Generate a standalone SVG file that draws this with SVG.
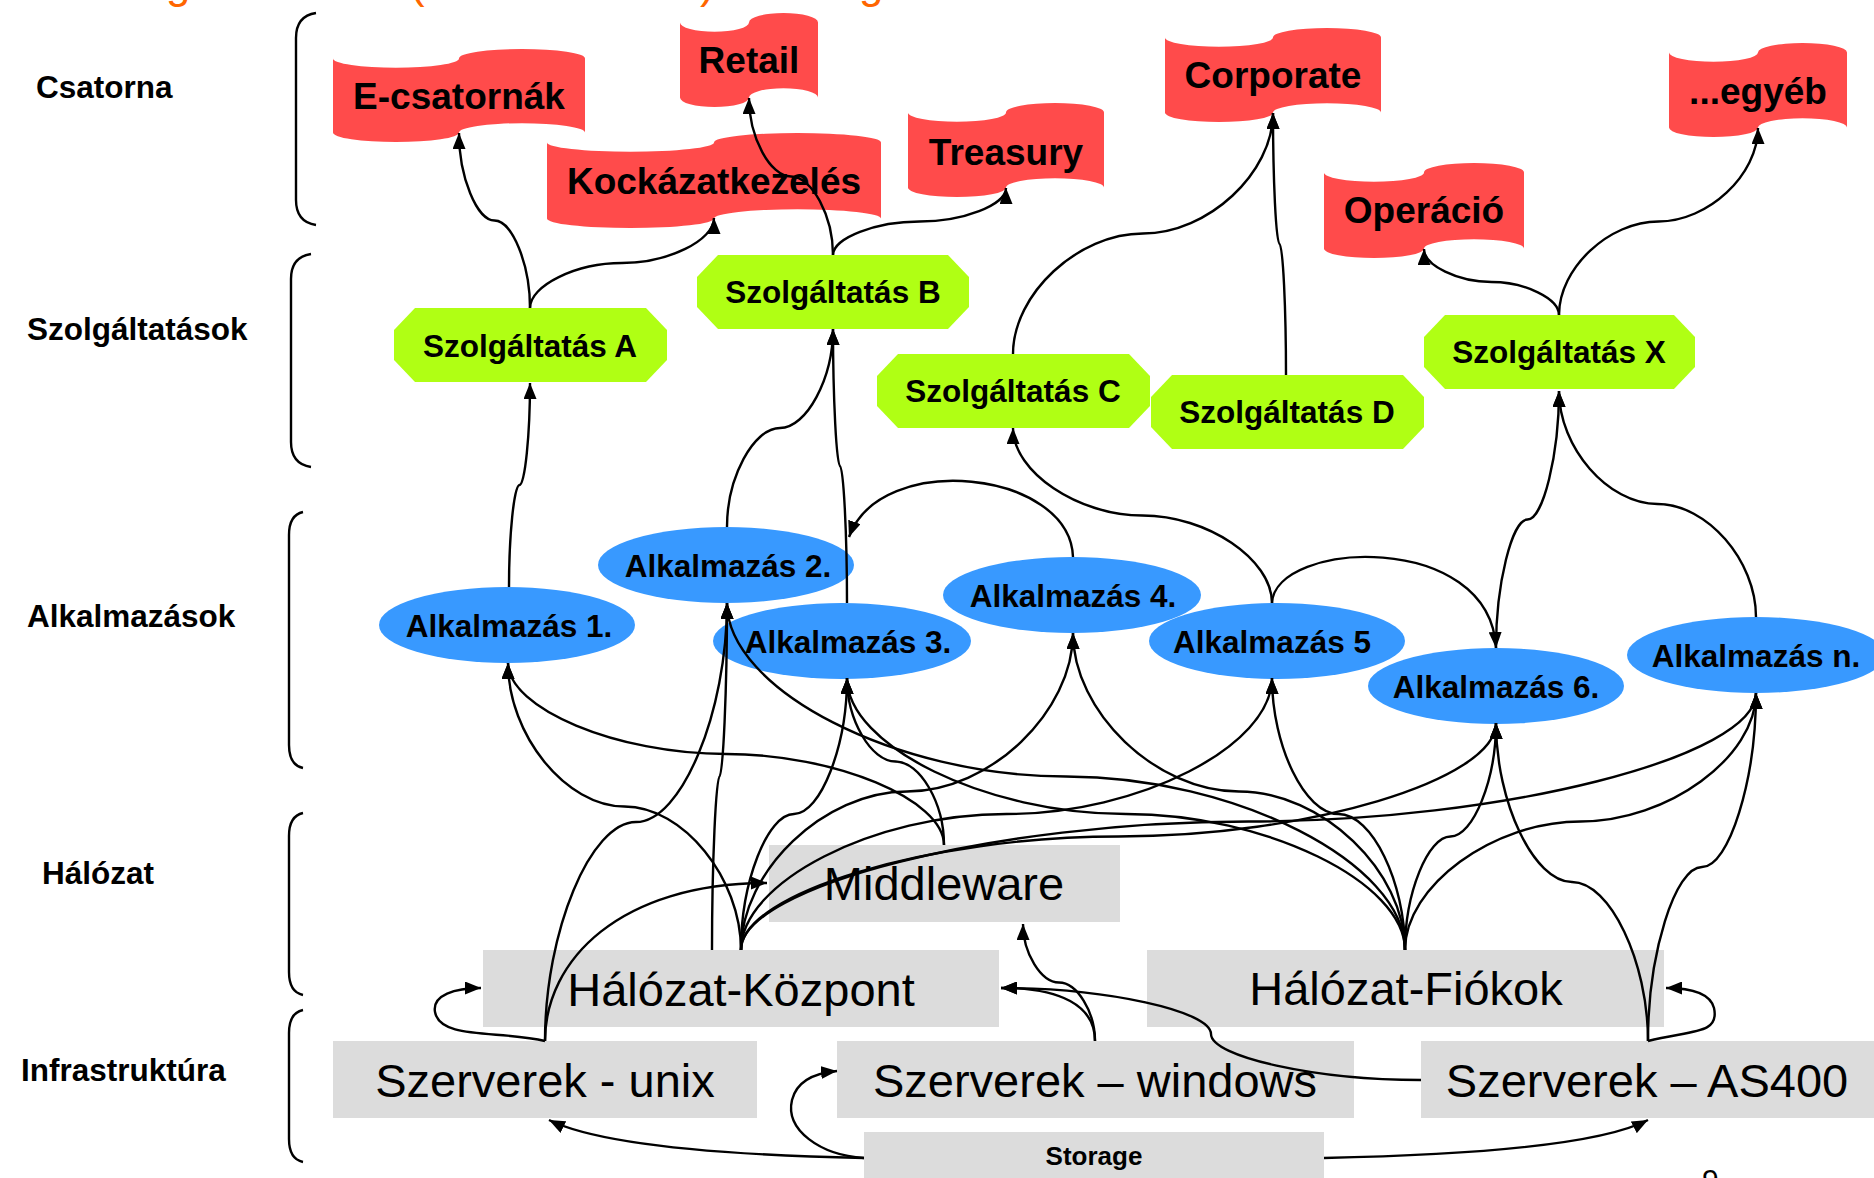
<svg xmlns="http://www.w3.org/2000/svg" width="1874" height="1178" viewBox="0 0 1874 1178">
  <style>
    .conn { fill: none; stroke: #000; stroke-width: 2.4; }
    .arr { marker-end: url(#ah); }
    .brk { fill: none; stroke: #000; stroke-width: 2.4; }
    .red { fill: #ff4b4b; }
    .grn { fill: #b0ff14; }
    .blu { fill: #3899ff; }
    .gry { fill: #dcdcdc; }
    text { font-family: "Liberation Sans", Arial, sans-serif; fill: #000; }
    .lvl { font-size: 31.5px; font-weight: bold; }
    .tr { font-size: 37px; font-weight: bold; text-anchor: middle; }
    .tg { font-size: 31.5px; font-weight: bold; text-anchor: middle; }
    .tb { font-size: 31.5px; font-weight: bold; text-anchor: middle; }
    .tx { font-size: 47px; text-anchor: middle; }
    .ttl { font-size: 44px; fill: #ff6600; }
  </style>
  <defs>
    <marker id="ah" viewBox="0 0 16 13" refX="16" refY="6.5" markerWidth="16" markerHeight="13" markerUnits="userSpaceOnUse" orient="auto">
      <path d="M0,0 L16,6.5 L0,13 Z" fill="#000"/>
    </marker>
  </defs>

  <!-- title line, mostly above the top edge -->
  <g id="title">
    <text class="ttl" x="166" y="-2">g</text>
    <text class="ttl" x="410" y="-2">(</text>
    <text class="ttl" x="700" y="-2">)</text>
    <text class="ttl" x="859" y="-2">g</text>
  </g>

  <!-- layer labels and brackets -->
  <g id="levels">
    <text class="lvl" x="36" y="98">Csatorna</text>
    <text class="lvl" x="27" y="340">Szolgáltatások</text>
    <text class="lvl" x="27" y="627">Alkalmazások</text>
    <text class="lvl" x="42" y="884">Hálózat</text>
    <text class="lvl" x="21" y="1081">Infrastruktúra</text>
    <path class="brk" d="M316,13 Q296,16 296,38 L296,200 Q296,222 316,225"/>
    <path class="brk" d="M311,254 Q291,257 291,279 L291,442 Q291,464 311,467"/>
    <path class="brk" d="M303,512 Q289,515 289,535 L289,745 Q289,765 303,768"/>
    <path class="brk" d="M303,813 Q289,816 289,836 L289,972 Q289,992 303,995"/>
    <path class="brk" d="M303,1010 Q289,1013 289,1033 L289,1139 Q289,1159 303,1162"/>
  </g>

  <!-- channel nodes (punched-tape shapes) -->
  <g id="n-ecsatornak">
    <path class="red" d="M333,58.4 A63,9.4 0 0 0 459,58.4 A63,9.4 0 0 1 585,58.4 L585,132.6 A63,9.4 0 0 0 459,132.6 A63,9.4 0 0 1 333,132.6 Z"/>
    <text class="tr" x="459" y="109">E-csatornák</text>
  </g>
  <g id="n-retail">
    <path class="red" d="M680,22.4 A34.5,9.4 0 0 0 749,22.4 A34.5,9.4 0 0 1 818,22.4 L818,97.6 A34.5,9.4 0 0 0 749,97.6 A34.5,9.4 0 0 1 680,97.6 Z"/>
    <text class="tr" x="749" y="73">Retail</text>
  </g>
  <g id="n-kockazat">
    <path class="red" d="M547,142.4 A83.5,9.4 0 0 0 714,142.4 A83.5,9.4 0 0 1 881,142.4 L881,218.6 A83.5,9.4 0 0 0 714,218.6 A83.5,9.4 0 0 1 547,218.6 Z"/>
    <text class="tr" x="714" y="194">Kockázatkezelés</text>
  </g>
  <g id="n-treasury">
    <path class="red" d="M908,112.4 A49,9.4 0 0 0 1006,112.4 A49,9.4 0 0 1 1104,112.4 L1104,187.6 A49,9.4 0 0 0 1006,187.6 A49,9.4 0 0 1 908,187.6 Z"/>
    <text class="tr" x="1006" y="165">Treasury</text>
  </g>
  <g id="n-corporate">
    <path class="red" d="M1165,37.4 A54,9.4 0 0 0 1273,37.4 A54,9.4 0 0 1 1381,37.4 L1381,112.6 A54,9.4 0 0 0 1273,112.6 A54,9.4 0 0 1 1165,112.6 Z"/>
    <text class="tr" x="1273" y="88">Corporate</text>
  </g>
  <g id="n-operacio">
    <path class="red" d="M1324,172.4 A50,9.4 0 0 0 1424,172.4 A50,9.4 0 0 1 1524,172.4 L1524,248.6 A50,9.4 0 0 0 1424,248.6 A50,9.4 0 0 1 1324,248.6 Z"/>
    <text class="tr" x="1424" y="223">Operáció</text>
  </g>
  <g id="n-egyeb">
    <path class="red" d="M1669,52.4 A44.5,9.4 0 0 0 1758,52.4 A44.5,9.4 0 0 1 1847,52.4 L1847,127.6 A44.5,9.4 0 0 0 1758,127.6 A44.5,9.4 0 0 1 1669,127.6 Z"/>
    <text class="tr" x="1758" y="104">...egyéb</text>
  </g>

  <!-- service nodes -->
  <g id="n-szolg-a">
    <polygon class="grn" points="415,308 646,308 667,330 667,360 646,382 415,382 394,360 394,330"/>
    <text class="tg" x="530" y="357">Szolgáltatás A</text>
  </g>
  <g id="n-szolg-b">
    <polygon class="grn" points="718,255 948,255 969,277 969,307 948,329 718,329 697,307 697,277"/>
    <text class="tg" x="833" y="303">Szolgáltatás B</text>
  </g>
  <g id="n-szolg-c">
    <polygon class="grn" points="898,354 1129,354 1150,376 1150,406 1129,428 898,428 877,406 877,376"/>
    <text class="tg" x="1013" y="402">Szolgáltatás C</text>
  </g>
  <g id="n-szolg-d">
    <polygon class="grn" points="1172,375 1403,375 1424,397 1424,427 1403,449 1172,449 1151,427 1151,397"/>
    <text class="tg" x="1287" y="423">Szolgáltatás D</text>
  </g>
  <g id="n-szolg-x">
    <polygon class="grn" points="1445,315 1674,315 1695,337 1695,367 1674,389 1445,389 1424,367 1424,337"/>
    <text class="tg" x="1559" y="363">Szolgáltatás X</text>
  </g>

  <!-- application nodes -->
  <g id="n-alk-1">
    <ellipse class="blu" cx="507" cy="625" rx="128" ry="38"/>
    <text class="tb" x="509" y="637">Alkalmazás 1.</text>
  </g>
  <g id="n-alk-2">
    <ellipse class="blu" cx="726" cy="565" rx="128" ry="38"/>
    <text class="tb" x="728" y="577">Alkalmazás 2.</text>
  </g>
  <g id="n-alk-3">
    <ellipse class="blu" cx="842" cy="641" rx="129" ry="38"/>
    <text class="tb" x="848" y="653">Alkalmazás 3.</text>
  </g>
  <g id="n-alk-4">
    <ellipse class="blu" cx="1072" cy="595" rx="129" ry="38"/>
    <text class="tb" x="1073" y="607">Alkalmazás 4.</text>
  </g>
  <g id="n-alk-5">
    <ellipse class="blu" cx="1277" cy="641" rx="128" ry="38"/>
    <text class="tb" x="1272" y="653">Alkalmazás 5</text>
  </g>
  <g id="n-alk-6">
    <ellipse class="blu" cx="1496" cy="686" rx="128" ry="38"/>
    <text class="tb" x="1496" y="698">Alkalmazás 6.</text>
  </g>
  <g id="n-alk-n">
    <ellipse class="blu" cx="1756" cy="655" rx="129" ry="38"/>
    <text class="tb" x="1756" y="667">Alkalmazás n.</text>
  </g>

  <!-- network and infrastructure nodes -->
  <g id="n-middleware">
    <rect class="gry" x="769" y="845" width="351" height="77"/>
    <text class="tx" x="944" y="900">Middleware</text>
  </g>
  <g id="n-halozat-kozpont">
    <rect class="gry" x="483" y="950" width="516" height="77"/>
    <text class="tx" x="741" y="1006">Hálózat-Központ</text>
  </g>
  <g id="n-halozat-fiokok">
    <rect class="gry" x="1147" y="950" width="517" height="77"/>
    <text class="tx" x="1406" y="1005">Hálózat-Fiókok</text>
  </g>
  <g id="n-szerver-unix">
    <rect class="gry" x="333" y="1041" width="424" height="77"/>
    <text class="tx" x="545" y="1097">Szerverek - unix</text>
  </g>
  <g id="n-szerver-windows">
    <rect class="gry" x="837" y="1041" width="517" height="77"/>
    <text class="tx" x="1095" y="1097">Szerverek – windows</text>
  </g>
  <g id="n-szerver-as400">
    <rect class="gry" x="1421" y="1041" width="460" height="77"/>
    <text class="tx" x="1647" y="1097">Szerverek – AS400</text>
  </g>
  <g id="n-storage">
    <rect class="gry" x="864" y="1132" width="460" height="50"/>
    <text x="1094" y="1165" font-size="26" font-weight="bold" text-anchor="middle">Storage</text>
  </g>

  <!-- connectors -->
  <g id="connectors">
    <!-- services to channels -->
    <path class="conn arr" d="M530,308 C530,264 512,220.5 494.5,220.5 C477,220.5 459,177 459,133"/>
    <path class="conn arr" d="M530,308 C530,285.5 576,263 622,263 C668,263 714,240.5 714,218"/>
    <path class="conn arr" d="M833,255 C833,216 812,176.5 791,176.5 C770,176.5 749,137 749,98"/>
    <path class="conn arr" d="M833,255 C833,238 876,221.5 919.5,221.5 C963,221.5 1006,205 1006,188"/>
    <path class="conn arr" d="M1013,354 C1013,294 1078,233.5 1143,233.5 C1208,233.5 1273,173 1273,113"/>
    <path class="conn arr" d="M1286,375 C1286,309.5 1283,244 1279.5,244 C1276,244 1273,178.5 1273,113"/>
    <path class="conn arr" d="M1559,315 C1559,298.5 1525,282 1491.5,282 C1458,282 1424,265.5 1424,249"/>
    <path class="conn arr" d="M1559,315 C1559,268 1609,221.5 1658.5,221.5 C1708,221.5 1758,175 1758,128"/>

    <!-- applications to services -->
    <path class="conn arr" d="M509,587 C509,536 514,485 519.5,485 C525,485 530,434 530,383"/>
    <path class="conn arr" d="M727,527 C727,477.5 753.5,428 780,428 C806.5,428 833,378.5 833,329"/>
    <path class="conn arr" d="M847,603 C847,534.5 843.5,466 840,466 C836.5,466 833,397.5 833,329"/>
    <path class="conn arr" d="M1073,557 C1070,470 880,450 849,537"/>
    <path class="conn arr" d="M1272,603 C1272,559 1207,515.5 1142.5,515.5 C1078,515.5 1013,472 1013,428"/>
    <path class="conn arr" d="M1272,603 C1275,540 1490,530 1496,648"/>
    <path class="conn arr" d="M1496,648 C1496,584 1512,519.5 1527.5,519.5 C1543,519.5 1559,455 1559,391"/>
    <path class="conn arr" d="M1756,617 C1756,560.5 1707,504 1657.5,504 C1608,504 1559,447.5 1559,391"/>

    <!-- network and servers to applications -->
    <path class="conn arr" d="M741,950 C741,878 683,806.5 624.5,806.5 C566,806.5 508,735 508,663"/>
    <path class="conn arr" d="M944,845 C944,799.5 835,754 726,754 C617,754 508,708.5 508,663"/>
    <path class="conn arr" d="M545,1041 C545,931.5 590.5,822 636,822 C681.5,822 727,712.5 727,603"/>
    <path class="conn arr" d="M712,950 C712,863 716,776.5 719.5,776.5 C723,776.5 727,690 727,603"/>
    <path class="conn arr" d="M1405,950 C1405,863 1235.5,776.5 1066,776.5 C896.5,776.5 727,690 727,603"/>
    <path class="conn arr" d="M741,950 C741,882 767.5,814 794,814 C820.5,814 847,746 847,678"/>
    <path class="conn arr" d="M944,845 C944,803 920,761.5 895.5,761.5 C871,761.5 847,720 847,678"/>
    <path class="conn arr" d="M1405,950 C1405,882 1265.5,814 1126,814 C986.5,814 847,746 847,678"/>
    <path class="conn arr" d="M741,950 C741,871 824,791.5 907,791.5 C990,791.5 1073,712 1073,633"/>
    <path class="conn arr" d="M1405,950 C1405,871 1322,791.5 1239,791.5 C1156,791.5 1073,712 1073,633"/>
    <path class="conn arr" d="M741,950 C741,882 874,814 1006.5,814 C1139,814 1272,746 1272,678"/>
    <path class="conn arr" d="M1405,950 C1405,882 1372,814 1338.5,814 C1305,814 1272,746 1272,678"/>
    <path class="conn arr" d="M741,950 C741,893 930,836.5 1118.5,836.5 C1307,836.5 1496,780 1496,723"/>
    <path class="conn arr" d="M1405,950 C1405,893 1428,836.5 1450.5,836.5 C1473,836.5 1496,780 1496,723"/>
    <path class="conn arr" d="M1648,1041 C1648,961.5 1610,882 1572,882 C1534,882 1496,802.5 1496,723"/>
    <path class="conn arr" d="M741,950 C741,886 995,821.5 1248.5,821.5 C1502,821.5 1756,757 1756,693"/>
    <path class="conn arr" d="M1405,950 C1405,886 1493,821.5 1580.5,821.5 C1668,821.5 1756,757 1756,693"/>
    <path class="conn arr" d="M1648,1041 C1648,954 1675,867 1702,867 C1729,867 1756,780 1756,693"/>

    <!-- infrastructure to network -->
    <path class="conn arr" d="M545,1041 C545,960 620,883 767,883"/>
    <path class="conn arr" d="M545,1041 C500,1030 440,1040 435,1012 C432,995 455,988 481,988"/>
    <path class="conn arr" d="M1095,1041 C1095,1012 1077,982.5 1059,982.5 C1041,982.5 1023,953 1023,924"/>
    <path class="conn arr" d="M1095,1041 C1095,1005 1060,988 1001,988"/>
    <path class="conn arr" d="M1421,1080 C1316,1080 1211,1057 1211,1034 C1211,1011 1106,988 1001,988"/>
    <path class="conn arr" d="M1648,1041 C1690,1030 1720,1035 1714,1008 C1710,993 1690,988 1666,988"/>

    <!-- storage to servers -->
    <path class="conn arr" d="M864,1158 C720,1155 600,1145 549,1120"/>
    <path class="conn arr" d="M864,1158 C820,1155 785,1130 792,1100 C797,1080 815,1073 837,1071"/>
    <path class="conn arr" d="M1324,1158 C1470,1155 1600,1145 1648,1120"/>
  </g>

  <text x="1702" y="1190" font-size="30">9</text>
</svg>
